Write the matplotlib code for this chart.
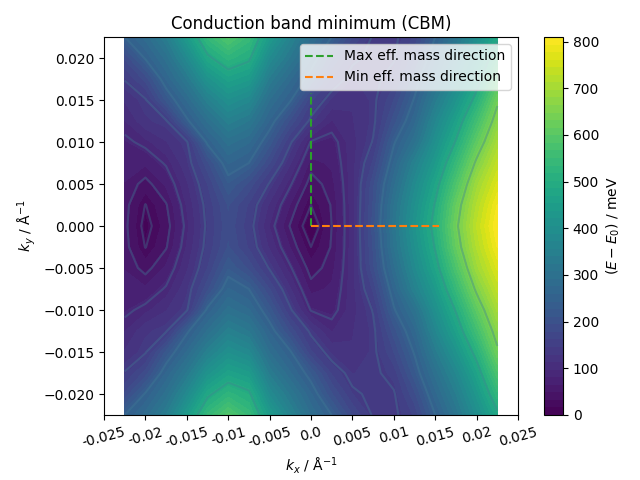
'''
Conduction band minimum map, energy against kx and ky
values read off the picture, only ky>=0 is kept as the map is mirrored
'''

##################################
import numpy as np
import matplotlib
matplotlib.use('Agg')
import matplotlib.pyplot as plt

###########################################
# the data

kx=[-0.0225,-0.02,-0.0175,-0.015,-0.0125,-0.01,-0.0075,-0.005,-0.0025,0.0,
    0.0025,0.005,0.0075,0.01,0.0125,0.015,0.0175,0.02,0.0225]
kyHalf=[0.0,0.0025,0.005,0.0075,0.01,0.0125,0.015,0.0175,0.02,0.0225]

energyHalf=[
  [56,11,40,92,146,190,152,96,48,0,50,106,202,315,415,510,630,730,810],
  [58,19,48,99,150,196,159,110,64,20,52,106,196,307,402,495,615,715,795],
  [64,42,68,110,162,225,190,137,88,40,59,106,190,286,382,470,580,690,765],
  [71,68,88,126,190,261,240,178,115,59,68,106,165,261,352,436,540,650,735],
  [79,92,112,137,248,298,277,218,144,83,76,106,142,236,302,402,495,605,700],
  [96,126,137,234,294,348,323,257,190,133,96,112,133,202,269,369,457,560,665],
  [115,137,215,277,348,402,377,290,244,165,126,115,133,178,244,332,415,510,630],
  [142,184,261,325,412,461,440,335,277,225,159,129,133,152,221,298,373,465,580],
  [181,244,298,380,480,525,500,385,320,261,196,146,133,137,190,269,340,427,530],
  [240,282,340,440,540,590,545,440,360,290,240,178,137,133,165,240,311,394,480],
]

lineLevels=[20,50,85,140,240,490,640]
xTicks=[-0.025,-0.02,-0.015,-0.01,-0.005,0.0,0.005,0.01,0.015,0.02,0.025]
maxDirX=[0.0,0.0]
maxDirY=[0.0,0.0158]
minDirX=[0.0,0.0155]
minDirY=[0.0,0.0]

###########################################

def plotBand(output):
  '''Draw the filled map with contours and directions'''
  half=np.array(energyHalf,dtype=float)
  energy=np.vstack((half[:0:-1],half))
  ky=np.concatenate((-np.array(kyHalf[:0:-1]),np.array(kyHalf)))

  fig=plt.figure(figsize=(6.4,4.8),dpi=100)
  ax=fig.add_axes([104/640,65/480,414/640,378/480])
  fill=ax.contourf(kx,ky,energy,levels=np.linspace(0,810,51),cmap='viridis')
  ax.contour(kx,ky,energy,levels=lineLevels,colors='#3f7f96',alpha=0.35,linewidths=1.5)
  ax.plot(maxDirX,maxDirY,color='tab:green',linestyle='--',label='Max eff. mass direction')
  ax.plot(minDirX,minDirY,color='tab:orange',linestyle='--',label='Min eff. mass direction')

  ax.set_xlim(-0.025,0.025)
  ax.set_ylim(-0.0225,0.0225)
  ax.set_xticks(xTicks)
  ax.set_xticklabels([str(x) for x in xTicks],rotation=15)
  ax.set_xlabel(r'$k_x$ / Å$^{-1}$')
  ax.set_ylabel(r'$k_y$ / Å$^{-1}$')
  ax.set_title('Conduction band minimum (CBM)')
  ax.legend(loc='upper right')

  cax=fig.add_axes([544/640,65/480,19/640,378/480])
  cbar=fig.colorbar(fill,cax=cax)
  cbar.set_ticks(np.arange(0,900,100))
  cbar.set_label(r'$(E-E_0)$ / meV')

  fig.savefig(output)
  plt.close(fig)
  print("Written to",output)

###########################################
# the main block

if __name__ == '__main__':
  plotBand('out.png')
